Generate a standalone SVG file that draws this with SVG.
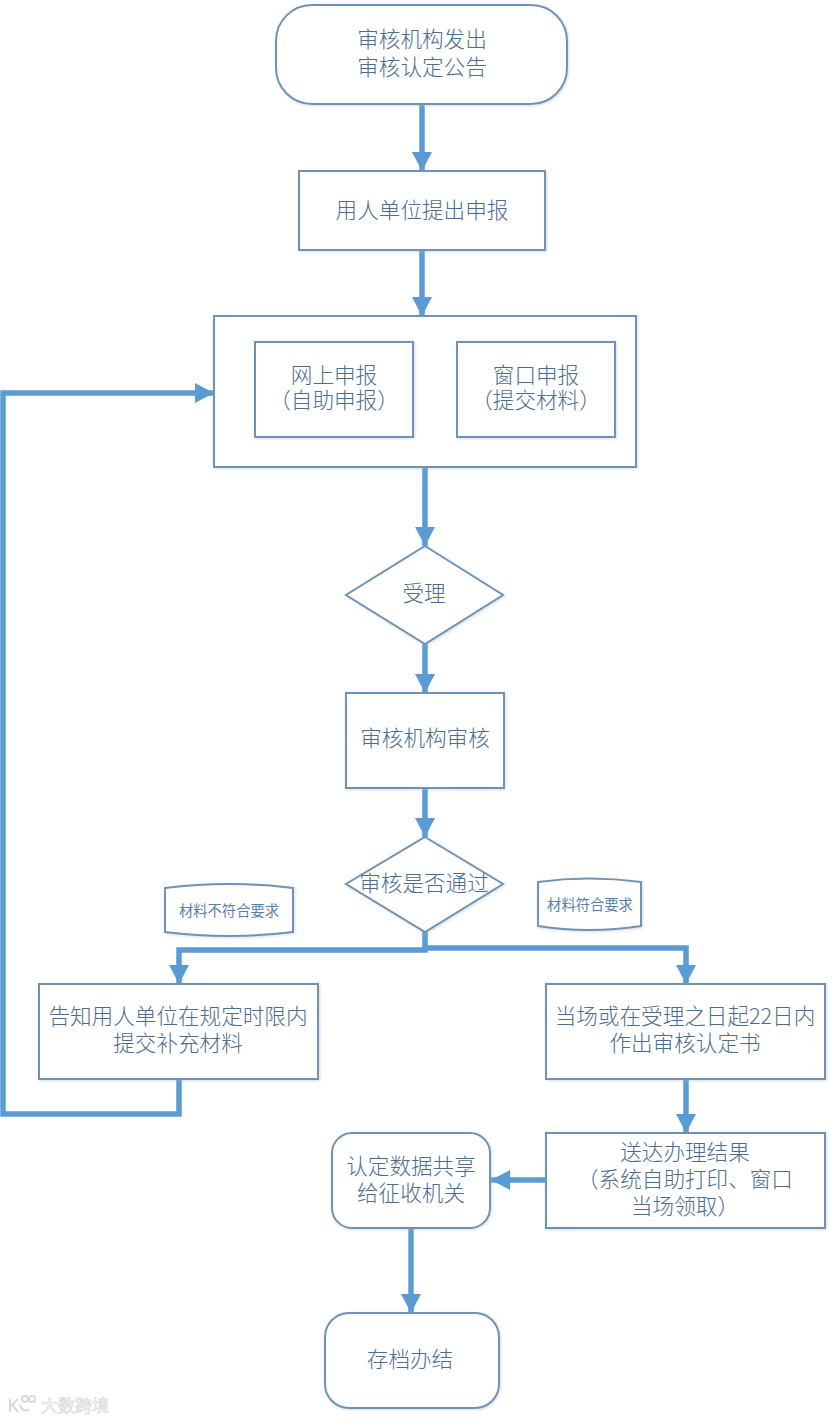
<svg xmlns="http://www.w3.org/2000/svg" width="832" height="1422" viewBox="0 0 832 1422">
<style>
.n{fill:#fff;stroke:#7193b3;stroke-width:2;filter:url(#sh)}
.t{font-family:"Noto Sans CJK SC",sans-serif;font-size:21.6px;fill:#4d6d8e;text-anchor:middle;font-weight:300}
.s{font-family:"Noto Sans CJK SC",sans-serif;font-size:14.3px;fill:#5b7fa6;text-anchor:middle;font-weight:400}
.c{fill:none;stroke:#5b9bd5;stroke-width:5.5}
.w{font-family:"Noto Sans CJK SC",sans-serif;font-size:17px;fill:#fff;stroke:#d8d8d8;stroke-width:.7;text-anchor:middle}
.l{fill:none;stroke:#d8d8d8;stroke-width:2}
</style>
<defs>
<marker id="a" markerUnits="userSpaceOnUse" markerWidth="20" markerHeight="20" refX="19" refY="10" orient="auto"><path d="M0 0L19 10L0 20Z" fill="#5b9bd5"/></marker>
<filter id="sh" x="-5%" y="-5%" width="110%" height="110%"><feDropShadow dx="1" dy="1" stdDeviation="1.5" flood-color="#9fb4c8" flood-opacity=".45"/></filter>
</defs>
<rect width="832" height="1422" fill="#fff"/>
<g id="connectors">
<path class="c" marker-end="url(#a)" d="M422 105V171"/>
<path class="c" marker-end="url(#a)" d="M422 251V316"/>
<path class="c" marker-end="url(#a)" d="M425 467V546"/>
<path class="c" marker-end="url(#a)" d="M425 644V693"/>
<path class="c" marker-end="url(#a)" d="M425 788V837"/>
<path class="c" marker-end="url(#a)" d="M425 932V950H179V984"/>
<path class="c" marker-end="url(#a)" d="M425 948H686V984"/>
<path class="c" marker-end="url(#a)" d="M179 1079V1114H3V393H214"/>
<path class="c" marker-end="url(#a)" d="M686 1079V1133"/>
<path class="c" marker-end="url(#a)" d="M547 1180H491"/>
<path class="c" marker-end="url(#a)" d="M411 1228V1313"/>
</g>
<g id="n1"><rect class="n" x="276" y="5" width="291" height="99" rx="36"/><text class="t" x="422" y="47">审核机构发出<tspan x="422" dy="28">审核认定公告</tspan></text></g>
<g id="n2"><rect class="n" x="299" y="171" width="246" height="79"/><text class="t" x="422" y="218">用人单位提出申报</text></g>
<g id="n3"><rect class="n" x="214" y="316" width="422" height="151"/></g>
<g id="n4"><rect class="n" x="255" y="342" width="158" height="95"/><text class="t" x="334" y="383">网上申报<tspan x="334" dy="25">（自助申报）</tspan></text></g>
<g id="n5"><rect class="n" x="457" y="342" width="158" height="95"/><text class="t" x="536" y="383">窗口申报<tspan x="536" dy="25">（提交材料）</tspan></text></g>
<g id="n6"><path class="n" d="M425 546L503 595L425 644L346 595Z"/><text class="t" x="424" y="601">受理</text></g>
<g id="n7"><rect class="n" x="346" y="693" width="158" height="95"/><text class="t" x="425" y="746">审核机构审核</text></g>
<g id="n8"><path class="n" d="M425 837L503 884L425 932L346 884Z"/><text class="t" x="424" y="891">审核是否通过</text></g>
<g id="n9"><path class="n" d="M165 888Q229 880 293 888V932Q229 940 165 932Z"/><text class="s" x="229" y="916">材料不符合要求</text></g>
<g id="n10"><path class="n" d="M538 882Q589 875 641 882V926Q589 934 538 926Z"/><text class="s" x="590" y="910">材料符合要求</text></g>
<g id="n11"><rect class="n" x="39" y="984" width="279" height="95"/><text class="t" x="178" y="1024">告知用人单位在规定时限内<tspan x="178" dy="27">提交补充材料</tspan></text></g>
<g id="n12"><rect class="n" x="546" y="984" width="279" height="95"/><text class="t" x="685" y="1024">当场或在受理之日起22日内<tspan x="685" dy="27">作出审核认定书</tspan></text></g>
<g id="n13"><rect class="n" x="546" y="1133" width="279" height="95"/><text class="t" x="685" y="1160">送达办理结果<tspan x="685" dy="27">（系统自助打印、窗口</tspan><tspan x="685" dy="27">当场领取）</tspan></text></g>
<g id="n14"><rect class="n" x="332" y="1133" width="158" height="95" rx="20"/><text class="t" x="411" y="1174">认定数据共享<tspan x="411" dy="27">给征收机关</tspan></text></g>
<g id="n15"><rect class="n" x="325" y="1313" width="174" height="95" rx="24"/><text class="t" x="410" y="1367">存档办结</text></g>
<path class="l" d="M10 1399V1412M18 1399L12 1405L18 1412M20 1404Q21 1412 29 1410"/><circle class="l" cx="25" cy="1399" r="3"/><circle class="l" cx="32" cy="1399" r="3"/>
<text class="w" x="75" y="1412">大数跨境</text>
</svg>
